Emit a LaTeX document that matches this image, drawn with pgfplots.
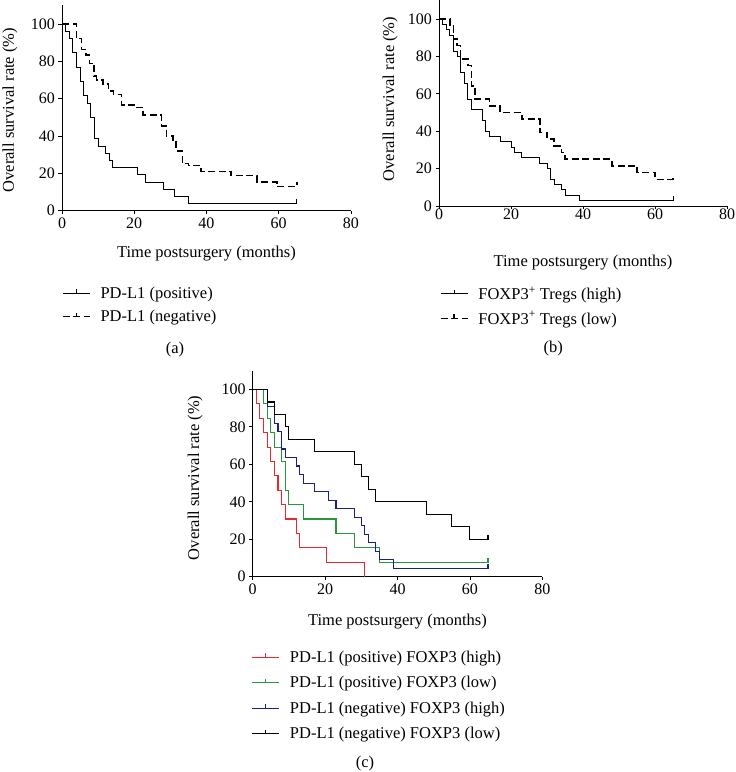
\documentclass[border=0pt]{standalone}
\usepackage{fontspec}
\setmainfont{Liberation Serif}
\usepackage{pgfplots}
\pgfplotsset{compat=1.18}
\definecolor{kmred}{RGB}{232,40,45}
\definecolor{kmgreen}{RGB}{40,150,60}
\definecolor{kmblue}{RGB}{25,35,125}
\pgfplotsset{
  km/.style={
    scale only axis, width=289bp, height=205.5bp,
    xmin=0, xmax=80, ymin=0, ymax=110,
    axis lines=left, axis line style={-, line width=0.8bp},
    xtick={0,20,40,60,80}, ytick={0,20,40,60,80,100},
    tick align=outside, major tick length=3.5bp,
    tick style={line width=0.8bp, black},
    font=\fontsize{16.5bp}{19bp}\selectfont,
    tick label style={font=\fontsize{16bp}{19bp}\selectfont},
    /pgf/number format/assume math mode=true,
    xlabel={Time postsurgery (months)},
    ylabel={Overall survival rate (\%)},
    legend cell align=left,
    legend style={draw=none, fill=none, inner sep=0pt, outer sep=0pt,
      row sep=6.5bp, column sep=8bp, anchor=north west,
      nodes={inner sep=2bp},
      font=\fontsize{16.5bp}{19bp}\selectfont},
    legend image code/.code={
      \draw[##1] (0bp,0bp) -- (27bp,0bp);
      \draw[##1, solid] (13.5bp,0bp) -- (13.5bp,4bp);
    },
    clip=false,
  },
  solidkm/.style={black, line width=0.9bp, const plot},
  dashkm/.style={black, line width=1.5bp, dash pattern=on 7bp off 3.5bp, const plot},
}
\begin{document}
\begin{tikzpicture}[x=1bp,y=1bp]
\path[use as bounding box] (0,0) rectangle (736bp,772bp);

% ---------------- (a)
\begin{axis}[km, at={(62bp,561.3bp)}, anchor=south west, height=205.3bp,
  xlabel style={at={(axis description cs:0.5,-0.211)}, anchor=center},
  ylabel style={at={(axis description cs:-0.18,0.49)}, anchor=center},
  legend style={at={(axis description cs:0,-0.36)}}]
\addplot[solidkm] coordinates {
(0,100) (1,96.2) (2,92.3) (3,84.6) (4,76.9) (5,69.2) (6,61.5) (7,57.7) (8,50)
(9,38.5) (10,34.6) (12,30.8) (13,26.9) (14,23.1) (21,19.2) (23,15.4) (28,11.5)
(31,7.7) (35,3.8) (65,3.8) (65,6)};
\addlegendentry{PD-L1 (positive)}
\addplot[dashkm] coordinates {
(0,100) (4,92.3) (5.4,86.4) (6.6,83.4) (7.6,78.9) (8.9,72.1) (9.6,70) (11.4,67.9)
(12.9,64) (14.2,62.3) (16.5,56.6) (20.6,55.2) (22.4,51.3) (27.5,45.4) (28.9,40)
(30.7,37.9) (31.6,32.1) (33.3,25.4) (35,24.1) (38.5,20.9) (46.8,18.8) (54,15.5)
(59.5,12.9) (65,12.9) (65,15.2)};
\addlegendentry{PD-L1 (negative)}
\node at (axis description cs:0.391,-0.678) {(a)};
\end{axis}

% ---------------- (b)
\begin{axis}[km, at={(439bp,566bp)}, anchor=south west, width=288bp, height=205.7bp,
  xticklabel style={yshift=4bp},
  xlabel style={at={(axis description cs:0.5,-0.276)}, anchor=center},
  ylabel style={at={(axis description cs:-0.17,0.52)}, anchor=center},
  legend style={at={(axis description cs:0.003,-0.382)}}]
\addplot[solidkm] coordinates {
(0,100) (1,97.1) (2,94.3) (3,91.4) (4,82.9) (5,80) (6,71.4) (7,65.7) (8,57.1)
(9,51.4) (12,45.7) (13,40) (14,37.1) (17,34.3) (20,31.4) (21,28.6) (23,25.7)
(28,22.9) (30,20) (31,14.3) (32,11.4) (34,8.6) (35,5.7) (39,2.9) (65,2.9) (65,5.5)};
\addlegendentry{FOXP3\textsuperscript{+} Tregs (high)}
\addplot[dashkm] coordinates {
(0,100) (3,96.4) (4,89.3) (5,85.7) (6,78.6) (8,75) (9,64.3) (10,57.1) (14,53.6)
(17,50) (23,46.4) (28,39.3) (30,35.7) (32,32.1) (34,28.6) (35,25) (48,21.4)
(55,17.9) (60,14.3) (65,14.3) (65,16.8)};
\addlegendentry{FOXP3\textsuperscript{+} Tregs (low)}
\node at (axis description cs:0.397,-0.692) {(b)};
\end{axis}

% ---------------- (c)
\begin{axis}[km, at={(252.7bp,195.3bp)}, anchor=south west, width=289.6bp, height=206bp,
  xlabel style={at={(axis description cs:0.5,-0.218)}, anchor=center},
  ylabel style={at={(axis description cs:-0.199,0.48)}, anchor=center},
  legend style={at={(axis description cs:-0.003,-0.35)}, row sep=8.5bp}]
\addplot[kmred, line width=1.1bp, const plot] coordinates {
(0,100) (1,92.3) (2,84.6) (3,76.9) (4,69.2) (5,61.5) (6,53.8) (7,46.2) (8,38.5)
(9,30.8) (12,23.1) (13,15.4) (20.3,7.7) (31,0)};
\addlegendentry{PD-L1 (positive) FOXP3 (high)}
\addplot[kmgreen, line width=1.1bp, const plot] coordinates {
(0,100) (3,92.3) (4,84.6) (5,76.9) (6,69.2) (8,61.5) (9,46.2) (10,38.5) (14,30.8)
(23,23.1) (28,15.4) (35,7.7) (65,7.7) (65,10)};
\addlegendentry{PD-L1 (positive) FOXP3 (low)}
\addplot[kmblue, line width=1.1bp, const plot] coordinates {
(0,100) (4,90.9) (6,81.8) (7,77.3) (8,68.2) (9,63.6) (12,59.1) (13,54.5) (14,50)
(17,45.5) (21,40.9) (23,36.4) (28,31.8) (30,27.3) (31,22.7) (32,18.2) (34,13.6)
(35,9.1) (39,4.5) (65,4.5) (65,7)};
\addlegendentry{PD-L1 (negative) FOXP3 (high)}
\addplot[black, line width=1.1bp, const plot] coordinates {
(0,100) (4,93.3) (6,86.7) (9,80) (10,73.3) (17,66.7) (28,60) (30,53.3) (32,46.7)
(34,40) (48,33.3) (55,26.7) (60,20) (65,20) (65,22.5)};
\addlegendentry{PD-L1 (negative) FOXP3 (low)}
\node at (axis description cs:0.388,-0.909) {(c)};
\end{axis}
\end{tikzpicture}
\end{document}
